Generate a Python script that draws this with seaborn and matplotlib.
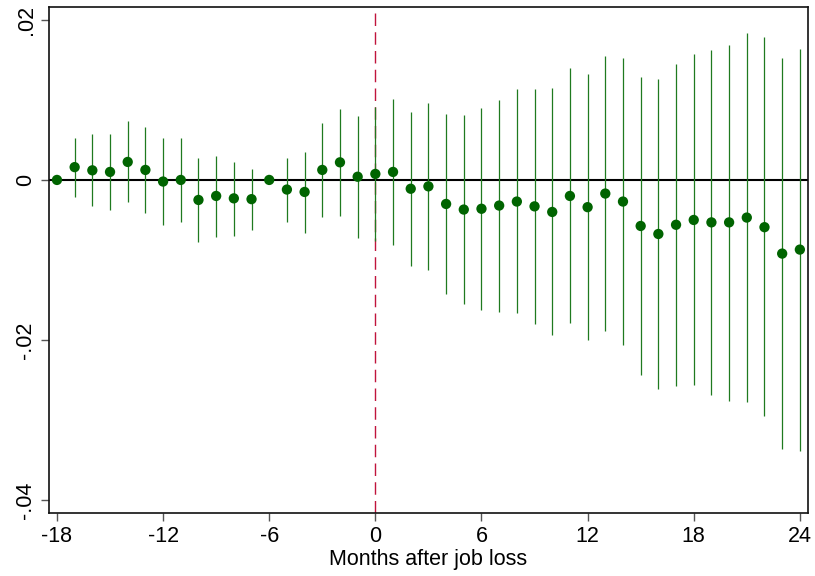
import matplotlib
matplotlib.use("Agg")
import matplotlib.pyplot as plt
import seaborn as sns
import numpy as np
import pandas as pd

months = list(range(-18, 25))
coef = [0.0, 0.0016, 0.0012, 0.0010, 0.00225, 0.00125, -0.0002, 0.0, -0.0025, -0.0020,
        -0.0023, -0.0024, 0.0, -0.0012, -0.0015, 0.00125, 0.0022, 0.0004, 0.00075, 0.0010,
        -0.0011, -0.0008, -0.0030, -0.0037, -0.0036, -0.0032, -0.0027, -0.0033, -0.0040, -0.0020,
        -0.0034, -0.0017, -0.0027, -0.00575, -0.00675, -0.0056, -0.0050, -0.0053, -0.0053, -0.0047,
        -0.0059, -0.0092, -0.0087]
upper = [0.0, 0.00525, 0.0057, 0.00575, 0.0074, 0.0066, 0.0052, 0.0052, 0.0027, 0.0030,
         0.0022, 0.0014, 0.0, 0.0028, 0.0035, 0.0071, 0.0088, 0.0080, 0.0091, 0.0101,
         0.0085, 0.0096, 0.0082, 0.0081, 0.0090, 0.0100, 0.0113, 0.0114, 0.0115, 0.0140,
         0.01325, 0.0155, 0.0152, 0.0129, 0.0126, 0.0145, 0.01575, 0.0162, 0.0169, 0.0183,
         0.0178, 0.0152, 0.0163]
lower = [0.0, -0.0021, -0.00325, -0.00375, -0.0028, -0.0041, -0.0056, -0.0053, -0.0077, -0.0071,
         -0.0070, -0.0062, 0.0, -0.0052, -0.0066, -0.0046, -0.0045, -0.0072, -0.0076, -0.0081,
         -0.0108, -0.0113, -0.0142, -0.0155, -0.0162, -0.0165, -0.0166, -0.0180, -0.0194, -0.0179,
         -0.0200, -0.0189, -0.0206, -0.0244, -0.0261, -0.0257, -0.0256, -0.0269, -0.0276, -0.0277,
         -0.0295, -0.0336, -0.0338]

xticks = [-18, -12, -6, 0, 6, 12, 18, 24]
yticks = [-0.04, -0.02, 0.0, 0.02]
ytick_labels = ["-.04", "-.02", "0", ".02"]
xlabel = "Months after job loss"

df = pd.DataFrame({"month": months, "coef": coef, "lo": lower, "hi": upper})

sns.set_theme(style="ticks")
plt.rcParams["font.family"] = ["Liberation Sans", "DejaVu Sans"]
plt.rcParams["text.color"] = "black"
plt.rcParams["axes.labelcolor"] = "black"
plt.rcParams["xtick.labelcolor"] = "black"
plt.rcParams["ytick.labelcolor"] = "black"

fig = plt.figure(figsize=(8.15, 5.76), dpi=100)
ax = fig.add_axes([49/815, 63/576, (808-49)/815, (513-7)/576])

ax.vlines(df["month"], df["lo"], df["hi"], color="#1f7a1f", linewidth=0.9, zorder=2)
ax.axhline(0, color="black", linewidth=1.5, zorder=1)
ax.axvline(0, color="#c0143c", linewidth=1.0, linestyle=(0, (9, 4.5)), zorder=1)
sns.scatterplot(data=df, x="month", y="coef", ax=ax, color="#006400", s=55,
                edgecolor="none", zorder=3)

ax.set_xlim(-18.45, 24.46)
ax.set_ylim(-0.0416, 0.0216)
ax.set_xticks(xticks)
ax.set_xticklabels([str(t) for t in xticks], fontsize=15.5, color="black")
ax.set_yticks(yticks)
ax.set_yticklabels(ytick_labels, fontsize=15.5, rotation=90, va="center", color="black")
ax.set_xlabel(xlabel, fontsize=15.5, labelpad=2, color="black")
ax.set_ylabel("")

for s in ax.spines.values():
    s.set_visible(True)
    s.set_color("#111111")
    s.set_linewidth(1.2)
ax.tick_params(axis="both", direction="out", length=6, width=1.0, color="#555555", pad=3)

fig.savefig("out.png", dpi=100)
